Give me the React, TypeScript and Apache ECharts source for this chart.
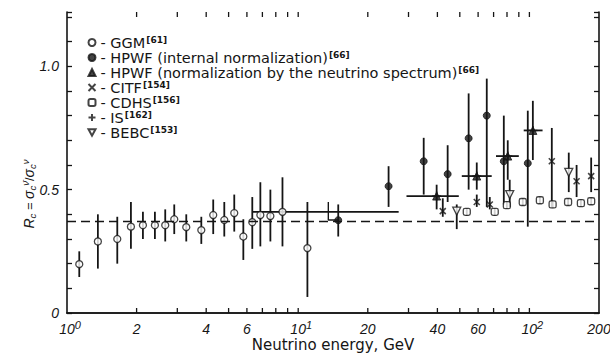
import React, { useEffect, useRef } from "react";
import * as echarts from "echarts";

// ---- GGM (open circles) ----
const ggmE = [1.13, 1.36, 1.65, 1.89, 2.13, 2.4, 2.66, 2.91, 3.28, 3.81, 4.29, 4.79, 5.29, 5.79, 6.33, 6.86, 7.58, 8.55, 10.96];
const ggmR = [0.198, 0.29, 0.3, 0.35, 0.356, 0.356, 0.356, 0.38, 0.348, 0.336, 0.397, 0.377, 0.405, 0.31, 0.368, 0.397, 0.393, 0.41, 0.263];
const ggmLo = [0.146, 0.18, 0.2, 0.26, 0.3, 0.3, 0.29, 0.32, 0.29, 0.28, 0.32, 0.31, 0.33, 0.215, 0.26, 0.27, 0.29, 0.27, 0.065];
const ggmHi = [0.25, 0.4, 0.39, 0.45, 0.41, 0.41, 0.42, 0.44, 0.4, 0.39, 0.46, 0.45, 0.48, 0.38, 0.47, 0.53, 0.5, 0.55, 0.45];

// ---- HPWF internal normalization (filled circles) ----
const hpwfE = [14.9, 24.6, 34.9, 44.3, 54.6, 65.4, 77.5, 98.4];
const hpwfR = [0.376, 0.514, 0.615, 0.563, 0.708, 0.8, 0.615, 0.607];
const hpwfLo = [0.31, 0.43, 0.48, 0.45, 0.5, 0.43, 0.44, 0.35];
const hpwfHi = [0.44, 0.595, 0.71, 0.68, 0.89, 0.95, 0.8, 0.82];

// ---- HPWF normalization by neutrino spectrum (filled triangles) ----
const hpwsE = [39.7, 59.2, 80.6, 103.5];
const hpwsR = [0.474, 0.555, 0.636, 0.74];
const hpwsLo = [0.42, 0.5, 0.54, 0.62];
const hpwsHi = [0.52, 0.61, 0.7, 0.86];

// ---- CITF (x) ----
const citfE = [42.2, 59.2, 67.4, 125, 160, 185];
const citfR = [0.413, 0.45, 0.44, 0.615, 0.534, 0.555];
const citfLo = [0.39, 0.43, 0.42, 0.43, 0.47, 0.49];
const citfHi = [0.465, 0.48, 0.47, 0.75, 0.6, 0.63];

// ---- CDHS (open squares) ----
const cdhsE = [53.6, 70.8, 79.9, 93.6, 111, 126, 147, 167, 185];
const cdhsR = [0.41, 0.41, 0.437, 0.45, 0.457, 0.44, 0.45, 0.445, 0.453];
const cdhsLo = [0.395, 0.395, 0.422, 0.435, 0.442, 0.425, 0.435, 0.43, 0.438];
const cdhsHi = [0.425, 0.425, 0.452, 0.465, 0.472, 0.455, 0.465, 0.46, 0.468];

// ---- IS (+, horizontal energy bins) ----
const isE = [39.7, 59.2, 80.6, 103.5];
const isR = [0.474, 0.555, 0.636, 0.74];
const isElo = [29.4, 51, 71.7, 94.5];
const isEhi = [49.5, 68.7, 90, 114];

// ---- BEBC (open down triangles) ----
const bebcE = [48.5, 82.2, 148];
const bebcR = [0.413, 0.48, 0.57];
const bebcLo = [0.34, 0.43, 0.49];
const bebcHi = [0.44, 0.54, 0.65];

// ---- extra lines ----
const binLineE = [6.33, 27.2];
const binLineR = [0.41, 0.41];
const bracketE = [13.5, 13.5, 15];
const bracketR = [0.45, 0.377, 0.377];
const refLevel = 0.372;

// ---- axes ----
const xTickVals = [2, 3, 4, 5, 6, 7, 8, 9, 10, 20, 30, 40, 50, 60, 70, 80, 90, 100];
const xLabelVals = [1, 2, 4, 6, 10, 20, 40, 60, 100, 200];
const xLabelMain = ["10", "2", "4", "6", "10", "20", "40", "60", "10", "200"];
const xLabelSup = ["0", "", "", "", "1", "", "", "", "2", ""];
const yLabelVals = [0, 0.5, 1.0];
const yLabelText = ["0", "0.5", "1.0"];

const legendNames = [
  "GGM",
  "HPWF (internal normalization)",
  "HPWF (normalization by the neutrino spectrum)",
  "CITF",
  "CDHS",
  "IS",
  "BEBC",
];
const legendRefs = ["61", "66", "66", "154", "156", "162", "153"];

const X_MIN = 1;
const X_MAX = 200;
const Y_MAX = 1.22;
const INK = "#151515";
const SANS = "DejaVu Sans";
const ITAL = "Liberation Sans";

function errorBars(E: number[], lo: number[], hi: number[]) {
  return {
    type: "custom",
    silent: true,
    z: 2,
    data: E.map((e, i) => [e, lo[i], hi[i]]),
    encode: { x: 0, y: [1, 2] },
    renderItem: (_p: any, api: any) => {
      const a = api.coord([api.value(0), api.value(1)]);
      const b = api.coord([api.value(0), api.value(2)]);
      return {
        type: "line",
        shape: { x1: a[0], y1: a[1], x2: b[0], y2: b[1] },
        style: { stroke: INK, lineWidth: 1.8 },
      };
    },
  };
}

export default function App() {
  const ref = useRef<HTMLDivElement>(null);
  useEffect(() => {
    if (!ref.current) return;
    const chart = echarts.init(ref.current, null, { renderer: "svg" });
    const openStyle = { color: "#fff", borderColor: INK, borderWidth: 1.3 };
    const fillStyle = { color: INK, borderColor: INK, borderWidth: 1 };

    const option: any = {
      animation: false,
      backgroundColor: "#fff",
      textStyle: { fontFamily: SANS, color: INK },
      grid: { left: 67, right: 11, top: 12, bottom: 49, containLabel: false },
      xAxis: [
        {
          type: "log",
          logBase: 10,
          min: X_MIN,
          max: X_MAX,
          position: "bottom",
          axisLine: { show: true, lineStyle: { color: INK, width: 1.6 } },
          axisTick: { show: false },
          axisLabel: { show: false },
          splitLine: { show: false },
          minorTick: { show: false },
          name: "Neutrino energy, GeV",
          nameLocation: "middle",
          nameGap: 24,
          nameTextStyle: { fontFamily: SANS, fontSize: 15, color: INK, verticalAlign: "top" },
        },
        {
          type: "log",
          logBase: 10,
          min: X_MIN,
          max: X_MAX,
          position: "top",
          axisLine: { show: true, lineStyle: { color: INK, width: 1.6 } },
          axisTick: { show: false },
          axisLabel: { show: false },
          splitLine: { show: false },
        },
      ],
      yAxis: [
        {
          type: "value",
          min: 0,
          max: Y_MAX,
          interval: 0.1,
          position: "left",
          axisLine: { show: true, lineStyle: { color: INK, width: 1.6 } },
          axisTick: { show: true, inside: true, length: 5, lineStyle: { color: INK, width: 1.3 } },
          axisLabel: {
            show: true,
            margin: 8,
            fontFamily: ITAL,
            fontStyle: "italic",
            fontSize: 14,
            color: INK,
            formatter: (v: number) => {
              for (let i = 0; i < yLabelVals.length; i++) {
                if (Math.abs(v - yLabelVals[i]) < 1e-6) return yLabelText[i];
              }
              return "";
            },
          },
          splitLine: { show: false },
        },
        {
          type: "value",
          min: 0,
          max: Y_MAX,
          interval: 0.1,
          position: "right",
          axisLine: { show: true, lineStyle: { color: INK, width: 1.6 } },
          axisTick: { show: true, inside: true, length: 5, lineStyle: { color: INK, width: 1.3 } },
          axisLabel: { show: false },
          splitLine: { show: false },
        },
      ],
      legend: {
        left: 86,
        top: 35,
        orient: "vertical",
        itemWidth: 7,
        itemHeight: 7,
        itemGap: 0,
        padding: 0,
        selectedMode: false,
        data: legendNames,
        formatter: (name: string) => {
          const i = legendNames.indexOf(name);
          return `{t|- ${name}}{s|[${legendRefs[i]}]}`;
        },
        textStyle: {
          rich: {
            t: { fontFamily: SANS, fontSize: 14.5, color: INK, lineHeight: 14 },
            s: { fontFamily: SANS, fontSize: 9, fontWeight: "bold", color: INK, verticalAlign: "top", lineHeight: 9, padding: [0, 0, 0, 1] },
          },
        },
      },
      graphic: [
        {
          type: "text",
          x: 29,
          y: 194,
          rotation: Math.PI / 2,
          style: {
            text: "{i|R}{sb|c}{n| = }{i|σ}{sb|c}{sp|ν̄}{n|/}{i|σ}{sb|c}{sp|ν}",
            align: "center",
            verticalAlign: "middle",
            fill: INK,
            rich: {
              i: { fontFamily: ITAL, fontStyle: "italic", fontSize: 14, lineHeight: 17, color: INK },
              n: { fontFamily: ITAL, fontSize: 13, color: INK },
              sb: { fontFamily: ITAL, fontStyle: "italic", fontSize: 9.5, verticalAlign: "bottom", color: INK },
              sp: { fontFamily: ITAL, fontStyle: "italic", fontSize: 9.5, verticalAlign: "top", color: INK },
            },
          },
        },
      ],
      series: [
        // tick marks bottom & top
        {
          type: "custom",
          silent: true,
          z: 1,
          data: xTickVals.map((v) => [v, 0]),
          encode: { x: 0, y: 1 },
          renderItem: (_p: any, api: any) => {
            const v = api.value(0);
            const b = api.coord([v, 0]);
            const t = api.coord([v, Y_MAX]);
            return {
              type: "group",
              children: [
                { type: "line", shape: { x1: b[0], y1: b[1], x2: b[0], y2: b[1] - 5 }, style: { stroke: INK, lineWidth: 1.3 } },
                { type: "line", shape: { x1: t[0], y1: t[1], x2: t[0], y2: t[1] + 5 }, style: { stroke: INK, lineWidth: 1.3 } },
              ],
            };
          },
        },
        // x tick labels
        {
          type: "custom",
          silent: true,
          z: 1,
          data: xLabelVals.map((v) => [v, 0]),
          encode: { x: 0, y: 1 },
          renderItem: (p: any, api: any) => {
            const i = p.dataIndex;
            const b = api.coord([api.value(0), 0]);
            const sup = xLabelSup[i];
            const text = sup ? `{m|${xLabelMain[i]}}{s|${sup}}` : `{m|${xLabelMain[i]}}`;
            return {
              type: "text",
              x: b[0] + (sup ? 3 : 0),
              y: b[1] + 16,
              style: {
                text,
                align: "center",
                verticalAlign: "middle",
                fill: INK,
                rich: {
                  m: { fontFamily: ITAL, fontStyle: "italic", fontSize: 14, lineHeight: 20, color: INK },
                  s: { fontFamily: ITAL, fontStyle: "italic", fontSize: 11, verticalAlign: "top", color: INK },
                },
              },
            };
          },
        },
        // dashed reference + energy bin line
        {
          type: "line",
          silent: true,
          z: 2,
          data: binLineE.map((e, i) => [e, binLineR[i]]),
          showSymbol: false,
          symbol: "none",
          lineStyle: { color: INK, width: 1.6 },
          markLine: {
            silent: true,
            symbol: "none",
            label: { show: false },
            lineStyle: { type: [9, 5], color: INK, width: 1.3 },
            data: [{ yAxis: refLevel }],
          },
        },
        {
          type: "line",
          silent: true,
          z: 2,
          data: bracketE.map((e, i) => [e, bracketR[i]]),
          showSymbol: false,
          symbol: "none",
          lineStyle: { color: INK, width: 1.4 },
        },
        // error bars
        errorBars(ggmE, ggmLo, ggmHi),
        errorBars(hpwfE, hpwfLo, hpwfHi),
        errorBars(hpwsE, hpwsLo, hpwsHi),
        errorBars(citfE, citfLo, citfHi),
        errorBars(cdhsE, cdhsLo, cdhsHi),
        errorBars(bebcE, bebcLo, bebcHi),
        // IS horizontal bins
        {
          type: "custom",
          silent: true,
          z: 2,
          data: isE.map((e, i) => [isElo[i], isEhi[i], isR[i]]),
          encode: { x: [0, 1], y: 2 },
          renderItem: (_p: any, api: any) => {
            const a = api.coord([api.value(0), api.value(2)]);
            const b = api.coord([api.value(1), api.value(2)]);
            return {
              type: "line",
              shape: { x1: a[0], y1: a[1], x2: b[0], y2: b[1] },
              style: { stroke: INK, lineWidth: 1.8 },
            };
          },
        },
        // markers
        {
          name: legendNames[0],
          type: "scatter",
          z: 3,
          symbol: "circle",
          symbolSize: 7,
          itemStyle: openStyle,
          data: ggmE.map((e, i) => [e, ggmR[i]]),
        },
        {
          name: legendNames[1],
          type: "scatter",
          z: 3,
          symbol: "circle",
          symbolSize: 7,
          itemStyle: fillStyle,
          data: hpwfE.map((e, i) => [e, hpwfR[i]]),
        },
        {
          name: legendNames[2],
          type: "scatter",
          z: 3,
          symbol: "triangle",
          symbolSize: 8,
          itemStyle: fillStyle,
          data: hpwsE.map((e, i) => [e, hpwsR[i]]),
        },
        {
          name: legendNames[3],
          type: "scatter",
          z: 3,
          symbol: "path://M0,0L10,10M10,0L0,10",
          symbolSize: 6,
          itemStyle: { color: "none", borderColor: INK, borderWidth: 1.6 },
          data: citfE.map((e, i) => [e, citfR[i]]),
        },
        {
          name: legendNames[4],
          type: "scatter",
          z: 3,
          symbol: "roundRect",
          symbolSize: 7,
          itemStyle: openStyle,
          data: cdhsE.map((e, i) => [e, cdhsR[i]]),
        },
        {
          name: legendNames[5],
          type: "scatter",
          z: 3,
          symbol: "path://M5,0L5,10M0,5L10,5",
          symbolSize: 9,
          itemStyle: { color: "none", borderColor: INK, borderWidth: 1.6 },
          data: isE.map((e, i) => [e, isR[i]]),
        },
        {
          name: legendNames[6],
          type: "scatter",
          z: 3,
          symbol: "path://M0,0L10,0L5,9Z",
          symbolSize: 8,
          itemStyle: openStyle,
          data: bebcE.map((e, i) => [e, bebcR[i]]),
        },
      ],
    };
    chart.setOption(option);
    return () => chart.dispose();
  }, []);
  return <div ref={ref} style={{ position: "fixed", left: 0, top: 0, width: 610, height: 362 }} />;
}
